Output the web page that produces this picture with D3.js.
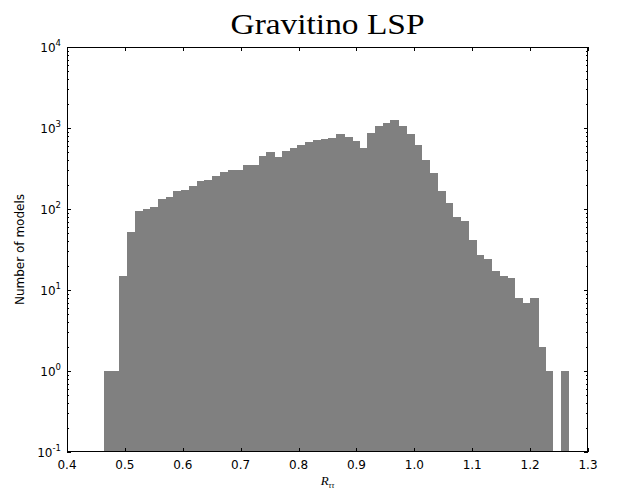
<!DOCTYPE html>
<html>
<head>
<meta charset="utf-8">
<script src="https://cdn.jsdelivr.net/npm/d3@7"></script>
<style>
  html, body { margin: 0; padding: 0; background: #fff; }
  svg { display: block; }
</style>
</head>
<body>
<svg id="chart" width="621" height="496"></svg>
<script>
// ---- data ----
const title = "Gravitino LSP";
const yLabel = "Number of models";
const binStart = 0.4635;
const binWidth = 0.013385;
const counts = [1,1,15,52,94,99,106,133,142,165,172,193,224,226,256,287,306,306,353,353,
  447,507,440,516,568,611,673,705,725,746,836,767,685,568,877,1061,1143,1257,1070,852,
  611,407,279,169,119,80,71,41,27,24,17,15,14,8,7,8,2,1,0,1];
const xTicks = [0.4,0.5,0.6,0.7,0.8,0.9,1.0,1.1,1.2,1.3];
const yExponents = [-1,0,1,2,3,4];

// ---- layout ----
const W = 621, H = 496;
const m = {left: 67, right: 33, top: 47, bottom: 44};
const pw = W - m.left - m.right, ph = H - m.top - m.bottom;
const svg = d3.select("#chart");
const g = svg.append("g").attr("transform", `translate(${m.left},${m.top})`);

const x = d3.scaleLinear().domain([0.4, 1.3]).range([0, pw]);
const y = d3.scaleLog().domain([0.1, 1e4]).range([ph, 0]);

const bins = counts.map((c, i) => ({x0: binStart + i * binWidth, x1: binStart + (i + 1) * binWidth, c, i}));

g.append("defs").append("clipPath").attr("id", "clip")
  .append("rect").attr("width", pw).attr("height", ph);

// draw each bar; neighbours overlap slightly so no seams appear
const barLayer = g.append("g").attr("clip-path", "url(#clip)");
barLayer.selectAll("rect").data(bins.filter(b => b.c > 0)).join("rect")
  .attr("x", d => x(d.x0))
  .attr("width", d => {
    const w = x(d.x1) - x(d.x0);
    const next = bins[d.i + 1];
    return next && next.c > 0 ? w + 1 : w;
  })
  .attr("y", d => y(d.c))
  .attr("height", d => ph - y(d.c) + 1)
  .attr("fill", "#808080")
  .attr("shape-rendering", "crispEdges");

// frame
g.append("rect").attr("x", 0.5).attr("y", 0.5).attr("width", pw - 1).attr("height", ph - 1)
  .attr("fill", "none").attr("stroke", "#000").attr("stroke-width", 1);

const tickColor = "#000";
// x ticks (bottom + top, inward)
xTicks.forEach(t => {
  const px = Math.round(x(t)) + 0.5;
  g.append("line").attr("x1", px).attr("x2", px).attr("y1", ph).attr("y2", ph - 4).attr("stroke", tickColor);
  g.append("line").attr("x1", px).attr("x2", px).attr("y1", 0).attr("y2", 4).attr("stroke", tickColor);
  g.append("text").attr("x", x(t)).attr("y", ph + 17)
    .attr("text-anchor", "middle").attr("font-family", "DejaVu Sans").attr("font-size", 12)
    .text(t.toFixed(1));
});

// y ticks: major + minor (left + right, inward)
yExponents.forEach(e => {
  const py = Math.round(y(Math.pow(10, e))) + 0.5;
  g.append("line").attr("x1", 0).attr("x2", 4).attr("y1", py).attr("y2", py).attr("stroke", tickColor);
  g.append("line").attr("x1", pw).attr("x2", pw - 4).attr("y1", py).attr("y2", py).attr("stroke", tickColor);
  const t = g.append("text").attr("x", -6).attr("y", y(Math.pow(10, e)) + 5)
    .attr("text-anchor", "end").attr("font-family", "DejaVu Sans").attr("font-size", 12);
  t.append("tspan").text("10");
  t.append("tspan").attr("dy", -6).attr("font-size", 8.5).text(String(e));
  if (e < 4) {
    for (let k = 2; k <= 9; k++) {
      const v = k * Math.pow(10, e);
      const pyy = Math.round(y(v)) + 0.5;
      g.append("line").attr("x1", 0).attr("x2", 2).attr("y1", pyy).attr("y2", pyy).attr("stroke", tickColor);
      g.append("line").attr("x1", pw).attr("x2", pw - 2).attr("y1", pyy).attr("y2", pyy).attr("stroke", tickColor);
    }
  }
});

// title
svg.append("text").attr("x", m.left + pw / 2).attr("y", 34)
  .attr("text-anchor", "middle").attr("font-family", "Liberation Serif").attr("font-size", 29)
  .attr("textLength", 194).attr("lengthAdjust", "spacingAndGlyphs")
  .text(title);

// y label
svg.append("text").attr("transform", `translate(24,${m.top + ph / 2}) rotate(-90)`)
  .attr("text-anchor", "middle").attr("font-family", "DejaVu Sans").attr("font-size", 12)
  .text(yLabel);

// x label R_ττ
const xl = svg.append("text").attr("x", m.left + pw / 2).attr("y", 485)
  .attr("text-anchor", "middle").attr("font-family", "Liberation Serif").attr("font-style", "italic").attr("font-size", 13);
xl.append("tspan").text("R");
xl.append("tspan").attr("dy", 3).attr("font-size", 8).text("ττ");
</script>
</body>
</html>
